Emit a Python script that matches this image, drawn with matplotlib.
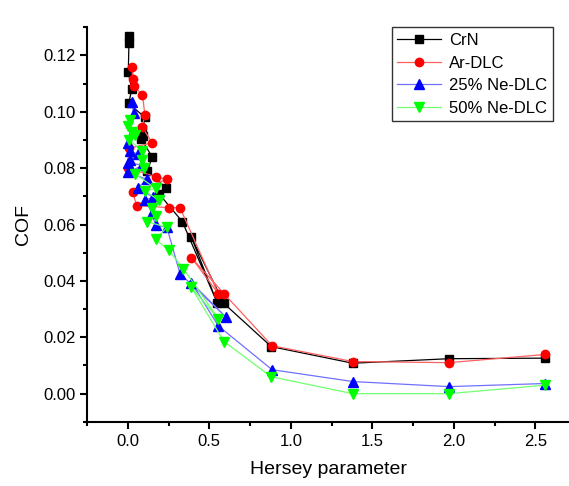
import matplotlib
matplotlib.use('Agg')
import matplotlib.pyplot as plt
from matplotlib.ticker import MultipleLocator

plt.rcParams['font.family'] = ['Liberation Sans', 'DejaVu Sans']

# Dados (parâmetro de Hersey x COF)
crn_x = [0.005, 0.007, 0.003, 0.025, 0.005, 0.105, 0.09, 0.095, 0.08, 0.15, 0.12,
         0.235, 0.19, 0.335, 0.55, 0.39, 0.59, 0.88, 1.38, 1.97, 2.56]
crn_y = [0.127, 0.1245, 0.114, 0.108, 0.103, 0.098, 0.094, 0.0915, 0.0905, 0.084, 0.079,
         0.073, 0.071, 0.061, 0.032, 0.0555, 0.032, 0.0167, 0.0108, 0.0124, 0.0126]

ar_x = [0.025, 0.03, 0.04, 0.09, 0.105, 0.088, 0.15, 0.005, 0.0, 0.17, 0.24,
        0.03, 0.055, 0.25, 0.32, 0.555, 0.39, 0.59, 0.885, 1.38, 1.97, 2.56]
ar_y = [0.116, 0.1115, 0.109, 0.106, 0.0988, 0.0946, 0.089, 0.087, 0.080, 0.077, 0.076,
        0.0714, 0.0667, 0.066, 0.066, 0.0355, 0.0483, 0.0355, 0.017, 0.0114, 0.011, 0.0139]

ne25_x = [0.025, 0.035, 0.0, 0.015, 0.06, 0.015, 0.0, 0.09, 0.002, 0.12, 0.06, 0.155,
          0.105, 0.15, 0.17, 0.24, 0.32, 0.6, 0.39, 0.556, 0.885, 1.38, 1.97, 2.56]
ne25_y = [0.1035, 0.0995, 0.089, 0.086, 0.085, 0.083, 0.082, 0.081, 0.0785, 0.076, 0.073, 0.0697,
          0.0686, 0.064, 0.0597, 0.059, 0.0426, 0.0273, 0.0394, 0.024, 0.0085, 0.0043, 0.0025, 0.0036]

ne50_x = [0.015, 0.0, 0.025, 0.045, 0.01, 0.09, 0.09, 0.1, 0.045, 0.17, 0.105, 0.19, 0.15,
          0.17, 0.12, 0.24, 0.17, 0.25, 0.34, 0.556, 0.39, 0.59, 0.88, 1.38, 1.97, 2.56]
ne50_y = [0.097, 0.095, 0.093, 0.0916, 0.090, 0.086, 0.083, 0.080, 0.078, 0.0728, 0.072, 0.0686, 0.066,
          0.063, 0.061, 0.059, 0.0547, 0.051, 0.0444, 0.0266, 0.0377, 0.0185, 0.006, 0.0, 0.0, 0.003]

series = [
    ('CrN', crn_x, crn_y, 's', 'black', 'black', 5.5),
    ('Ar-DLC', ar_x, ar_y, 'o', 'red', '#ff6060', 6),
    ('25% Ne-DLC', ne25_x, ne25_y, '^', 'blue', '#7070ff', 6.5),
    ('50% Ne-DLC', ne50_x, ne50_y, 'v', '#00ff00', '#70ff70', 6.5),
]

fig = plt.figure(figsize=(5.69, 4.86), dpi=100)
ax = fig.add_axes([0.153, 0.132, 0.847, 0.812])

for nome, xs, ys, marcador, cor, cor_linha, tam in series:
    ax.plot(xs, ys, color=cor_linha, linewidth=0.9, marker=marcador,
            markersize=tam, markerfacecolor=cor, markeredgecolor=cor, label=nome)

ax.set_xlim(-0.25, 2.707)
ax.set_ylim(-0.01, 0.13)
ax.xaxis.set_major_locator(MultipleLocator(0.5))
ax.xaxis.set_minor_locator(MultipleLocator(0.25))
ax.yaxis.set_major_locator(MultipleLocator(0.02))
ax.yaxis.set_minor_locator(MultipleLocator(0.01))
ax.xaxis.set_major_formatter(plt.FormatStrFormatter('%.1f'))
ax.yaxis.set_major_formatter(plt.FormatStrFormatter('%.2f'))

for lado in ['top', 'right']:
    ax.spines[lado].set_visible(False)
for lado in ['left', 'bottom']:
    ax.spines[lado].set_linewidth(1.5)

ax.tick_params(which='major', direction='out', length=5, width=1.5, labelsize=12)
ax.tick_params(which='minor', direction='out', length=3, width=1.5)

ax.set_xlabel('Hersey parameter', fontsize=14, labelpad=9)
ax.set_ylabel('COF', fontsize=14, labelpad=8)

leg = ax.legend(loc='upper right', bbox_to_anchor=(0.972, 0.944), bbox_transform=fig.transFigure,
                fontsize=12, frameon=True, fancybox=False, borderaxespad=0,
                handlelength=2.6, handletextpad=0.5, labelspacing=0.45, borderpad=0.35)
leg.get_frame().set_edgecolor('black')
leg.get_frame().set_linewidth(1.0)

fig.savefig('out.png', dpi=100)
